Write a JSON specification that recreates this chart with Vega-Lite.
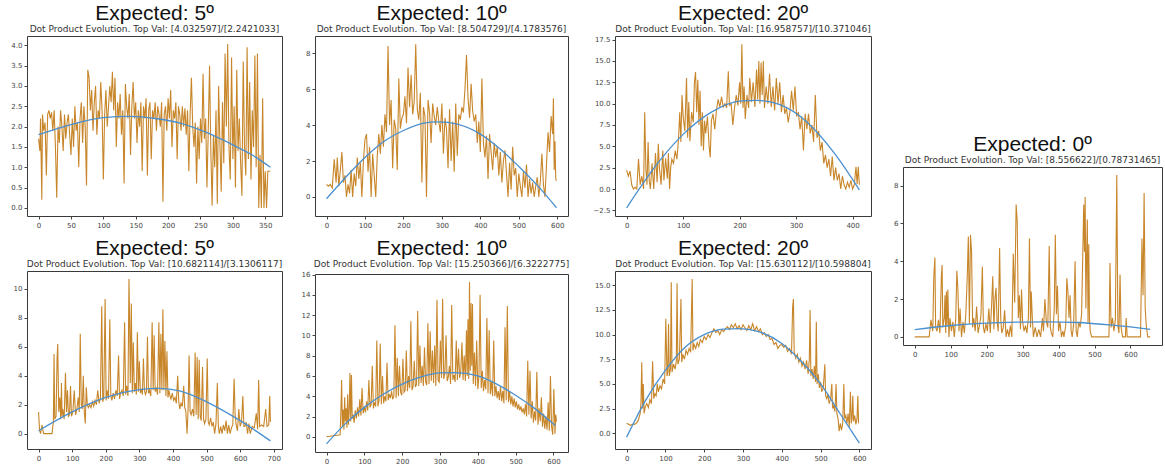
{
  "$schema": "https://vega.github.io/schema/vega-lite/v6.json",
  "background": "white",
  "padding": {"left": 10, "top": 2, "right": 0, "bottom": 0},
  "spacing": 17,
  "datasets": {
    "a": [{"x":0,"y":1.7},{"x":2,"y":1.4},{"x":3,"y":2.2},{"x":5,"y":0.2},{"x":6,"y":2.3},{"x":8,"y":1.9},{"x":10,"y":2.1},{"x":12,"y":0.8},{"x":14,"y":2.3},{"x":16,"y":2.4},{"x":18,"y":2.2},{"x":20,"y":2.35},{"x":22,"y":1.9},{"x":24,"y":2.4},{"x":26,"y":1.5},{"x":28,"y":0.25},{"x":30,"y":2.0},{"x":32,"y":1.6},{"x":34,"y":2.4},{"x":36,"y":2.0},{"x":38,"y":1.4},{"x":40,"y":2.3},{"x":42,"y":1.7},{"x":44,"y":2.1},{"x":46,"y":2.3},{"x":48,"y":1.8},{"x":50,"y":1.3},{"x":52,"y":2.2},{"x":54,"y":1.5},{"x":56,"y":2.5},{"x":58,"y":1.9},{"x":60,"y":2.1},{"x":62,"y":1.0},{"x":64,"y":2.2},{"x":66,"y":2.6},{"x":68,"y":1.6},{"x":70,"y":2.5},{"x":72,"y":2.0},{"x":74,"y":0.55},{"x":76,"y":3.4},{"x":78,"y":3.2},{"x":80,"y":2.4},{"x":82,"y":2.9},{"x":84,"y":1.9},{"x":86,"y":2.6},{"x":88,"y":3.0},{"x":90,"y":1.8},{"x":92,"y":2.4},{"x":94,"y":2.2},{"x":96,"y":3.1},{"x":98,"y":2.4},{"x":100,"y":0.7},{"x":102,"y":2.3},{"x":104,"y":2.9},{"x":106,"y":2.0},{"x":108,"y":2.5},{"x":110,"y":3.0},{"x":112,"y":2.6},{"x":114,"y":3.35},{"x":116,"y":2.4},{"x":118,"y":3.2},{"x":120,"y":1.5},{"x":122,"y":2.6},{"x":124,"y":2.2},{"x":126,"y":2.8},{"x":128,"y":1.8},{"x":130,"y":2.4},{"x":132,"y":0.6},{"x":134,"y":3.05},{"x":136,"y":2.5},{"x":138,"y":2.2},{"x":140,"y":2.8},{"x":142,"y":1.3},{"x":144,"y":2.5},{"x":146,"y":3.1},{"x":148,"y":2.2},{"x":150,"y":2.6},{"x":152,"y":1.6},{"x":154,"y":2.4},{"x":156,"y":2.0},{"x":158,"y":2.6},{"x":160,"y":0.9},{"x":162,"y":2.5},{"x":164,"y":2.2},{"x":166,"y":2.7},{"x":168,"y":0.8},{"x":170,"y":2.4},{"x":172,"y":2.6},{"x":174,"y":1.2},{"x":176,"y":2.4},{"x":178,"y":2.2},{"x":180,"y":2.6},{"x":182,"y":1.9},{"x":184,"y":2.5},{"x":186,"y":2.3},{"x":188,"y":2.0},{"x":190,"y":2.6},{"x":192,"y":0.15},{"x":194,"y":2.3},{"x":196,"y":2.5},{"x":198,"y":1.9},{"x":200,"y":2.7},{"x":202,"y":2.2},{"x":204,"y":2.9},{"x":206,"y":1.5},{"x":208,"y":2.4},{"x":210,"y":2.2},{"x":212,"y":2.6},{"x":214,"y":1.2},{"x":216,"y":2.5},{"x":218,"y":2.3},{"x":220,"y":1.9},{"x":222,"y":2.5},{"x":224,"y":2.0},{"x":226,"y":2.45},{"x":228,"y":1.8},{"x":230,"y":2.4},{"x":232,"y":0.9},{"x":234,"y":2.3},{"x":236,"y":3.2},{"x":238,"y":2.0},{"x":240,"y":1.5},{"x":242,"y":2.1},{"x":244,"y":0.6},{"x":246,"y":2.0},{"x":248,"y":1.2},{"x":250,"y":2.2},{"x":252,"y":1.6},{"x":254,"y":3.3},{"x":256,"y":1.7},{"x":258,"y":2.2},{"x":260,"y":0.5},{"x":262,"y":1.9},{"x":264,"y":3.5},{"x":266,"y":1.4},{"x":268,"y":0.05},{"x":270,"y":1.8},{"x":272,"y":1.0},{"x":274,"y":2.4},{"x":276,"y":0.1},{"x":278,"y":3.0},{"x":280,"y":1.6},{"x":282,"y":0.4},{"x":284,"y":2.6},{"x":286,"y":1.1},{"x":288,"y":3.8},{"x":290,"y":2.0},{"x":292,"y":4.03},{"x":294,"y":1.5},{"x":296,"y":0.7},{"x":298,"y":3.7},{"x":300,"y":1.2},{"x":302,"y":2.5},{"x":304,"y":0.5},{"x":306,"y":3.4},{"x":308,"y":1.4},{"x":310,"y":2.2},{"x":312,"y":1.1},{"x":314,"y":0.3},{"x":316,"y":3.6},{"x":318,"y":1.5},{"x":320,"y":0.8},{"x":322,"y":3.95},{"x":324,"y":1.2},{"x":326,"y":3.1},{"x":328,"y":0.7},{"x":330,"y":2.4},{"x":332,"y":1.5},{"x":334,"y":3.75},{"x":336,"y":1.0},{"x":338,"y":3.8},{"x":340,"y":0.0},{"x":342,"y":1.3},{"x":344,"y":0.0},{"x":346,"y":2.7},{"x":348,"y":0.0},{"x":350,"y":0.9},{"x":352,"y":0.0},{"x":354,"y":0.9},{"x":358,"y":0.9}],
    "a_fit": [{"x":0,"y":1.8},{"x":50,"y":2.05},{"x":100,"y":2.22},{"x":140,"y":2.25},{"x":180,"y":2.2},{"x":220,"y":2.08},{"x":260,"y":1.85},{"x":300,"y":1.55},{"x":330,"y":1.3},{"x":358,"y":1.0}],
    "b": [{"x":0,"y":0.7},{"x":5,"y":0.6},{"x":10,"y":0.7},{"x":15,"y":0.5},{"x":20,"y":2.1},{"x":25,"y":0.8},{"x":28,"y":2.2},{"x":32,"y":0.6},{"x":36,"y":1.5},{"x":40,"y":2.5},{"x":44,"y":0.8},{"x":48,"y":1.2},{"x":52,"y":0.0},{"x":56,"y":0.7},{"x":60,"y":0.2},{"x":64,"y":1.5},{"x":68,"y":0.0},{"x":72,"y":1.3},{"x":76,"y":0.6},{"x":80,"y":2.2},{"x":84,"y":1.0},{"x":88,"y":1.9},{"x":92,"y":0.0},{"x":96,"y":2.0},{"x":100,"y":3.2},{"x":104,"y":3.5},{"x":108,"y":1.4},{"x":112,"y":2.8},{"x":116,"y":0.0},{"x":120,"y":2.4},{"x":124,"y":1.2},{"x":128,"y":0.0},{"x":132,"y":2.3},{"x":136,"y":3.5},{"x":140,"y":2.4},{"x":144,"y":4.0},{"x":148,"y":2.8},{"x":152,"y":4.6},{"x":156,"y":3.6},{"x":160,"y":8.4},{"x":164,"y":4.0},{"x":168,"y":5.4},{"x":172,"y":1.6},{"x":176,"y":4.3},{"x":180,"y":3.8},{"x":184,"y":1.5},{"x":188,"y":6.6},{"x":192,"y":3.8},{"x":196,"y":4.4},{"x":200,"y":4.6},{"x":204,"y":5.6},{"x":208,"y":4.1},{"x":212,"y":7.2},{"x":216,"y":5.0},{"x":220,"y":6.8},{"x":224,"y":4.6},{"x":228,"y":5.3},{"x":232,"y":8.5},{"x":236,"y":4.9},{"x":240,"y":4.3},{"x":244,"y":5.8},{"x":248,"y":0.8},{"x":252,"y":5.0},{"x":256,"y":4.5},{"x":260,"y":0.0},{"x":264,"y":5.4},{"x":268,"y":4.7},{"x":272,"y":3.0},{"x":276,"y":5.2},{"x":280,"y":4.5},{"x":284,"y":4.0},{"x":288,"y":5.0},{"x":292,"y":4.2},{"x":296,"y":3.6},{"x":300,"y":5.2},{"x":304,"y":2.4},{"x":308,"y":4.4},{"x":312,"y":3.8},{"x":316,"y":1.6},{"x":320,"y":4.9},{"x":324,"y":2.0},{"x":328,"y":4.2},{"x":332,"y":1.4},{"x":336,"y":5.2},{"x":340,"y":2.3},{"x":344,"y":4.6},{"x":348,"y":4.3},{"x":352,"y":5.0},{"x":356,"y":4.7},{"x":360,"y":6.0},{"x":364,"y":7.9},{"x":368,"y":5.5},{"x":372,"y":4.4},{"x":376,"y":6.3},{"x":380,"y":4.8},{"x":384,"y":4.2},{"x":388,"y":4.6},{"x":392,"y":3.0},{"x":396,"y":4.2},{"x":400,"y":2.5},{"x":404,"y":6.6},{"x":408,"y":3.0},{"x":412,"y":2.2},{"x":416,"y":3.4},{"x":420,"y":1.0},{"x":424,"y":3.5},{"x":428,"y":2.5},{"x":432,"y":1.5},{"x":436,"y":3.0},{"x":440,"y":2.2},{"x":444,"y":2.8},{"x":448,"y":1.2},{"x":452,"y":2.5},{"x":456,"y":0.8},{"x":460,"y":2.0},{"x":464,"y":2.6},{"x":468,"y":1.3},{"x":472,"y":0.0},{"x":476,"y":1.9},{"x":480,"y":0.4},{"x":484,"y":2.8},{"x":488,"y":1.2},{"x":492,"y":1.6},{"x":496,"y":0.0},{"x":500,"y":1.3},{"x":504,"y":0.6},{"x":508,"y":0.0},{"x":512,"y":1.4},{"x":516,"y":0.5},{"x":520,"y":1.8},{"x":524,"y":0.0},{"x":528,"y":1.0},{"x":532,"y":0.2},{"x":536,"y":0.8},{"x":540,"y":0.0},{"x":544,"y":0.6},{"x":548,"y":1.1},{"x":552,"y":0.0},{"x":556,"y":0.9},{"x":560,"y":2.4},{"x":564,"y":0.7},{"x":568,"y":0.0},{"x":572,"y":1.8},{"x":576,"y":3.6},{"x":580,"y":2.5},{"x":584,"y":4.5},{"x":588,"y":3.5},{"x":590,"y":5.5},{"x":592,"y":1.5},{"x":594,"y":3.1},{"x":596,"y":1.0},{"x":598,"y":0.9}],
    "b_fit": [{"x":0,"y":-0.1},{"x":50,"y":1.1},{"x":100,"y":2.2},{"x":150,"y":3.1},{"x":200,"y":3.7},{"x":250,"y":4.1},{"x":290,"y":4.18},{"x":340,"y":4.05},{"x":400,"y":3.5},{"x":450,"y":2.7},{"x":500,"y":1.7},{"x":550,"y":0.6},{"x":598,"y":-0.6}],
    "c": [{"x":0,"y":2.2},{"x":3,"y":1.5},{"x":6,"y":2.1},{"x":9,"y":0.5},{"x":12,"y":0.0},{"x":15,"y":0.2},{"x":18,"y":0.0},{"x":21,"y":3.5},{"x":24,"y":0.5},{"x":27,"y":1.5},{"x":30,"y":0.0},{"x":32,"y":9.0},{"x":34,"y":2.5},{"x":36,"y":0.5},{"x":38,"y":5.5},{"x":40,"y":1.0},{"x":42,"y":0.0},{"x":45,"y":3.0},{"x":48,"y":0.0},{"x":51,"y":4.2},{"x":54,"y":0.8},{"x":56,"y":5.3},{"x":58,"y":2.5},{"x":61,"y":0.5},{"x":64,"y":4.5},{"x":66,"y":1.0},{"x":69,"y":3.6},{"x":72,"y":1.2},{"x":74,"y":4.2},{"x":76,"y":0.0},{"x":78,"y":2.5},{"x":80,"y":3.5},{"x":83,"y":3.0},{"x":86,"y":4.5},{"x":89,"y":3.5},{"x":92,"y":6.0},{"x":94,"y":9.0},{"x":96,"y":5.5},{"x":98,"y":11.0},{"x":100,"y":8.5},{"x":103,"y":6.8},{"x":106,"y":13.0},{"x":108,"y":6.0},{"x":110,"y":10.2},{"x":112,"y":5.6},{"x":115,"y":9.0},{"x":118,"y":7.8},{"x":120,"y":12.5},{"x":122,"y":13.7},{"x":124,"y":9.0},{"x":126,"y":12.8},{"x":128,"y":7.5},{"x":130,"y":11.5},{"x":132,"y":5.0},{"x":134,"y":9.0},{"x":136,"y":4.5},{"x":138,"y":8.0},{"x":140,"y":6.5},{"x":143,"y":8.5},{"x":146,"y":5.0},{"x":148,"y":3.7},{"x":150,"y":8.0},{"x":153,"y":8.8},{"x":156,"y":7.0},{"x":159,"y":9.2},{"x":162,"y":10.5},{"x":165,"y":9.6},{"x":168,"y":10.8},{"x":171,"y":9.6},{"x":174,"y":10.0},{"x":177,"y":9.5},{"x":180,"y":13.8},{"x":182,"y":9.8},{"x":185,"y":10.0},{"x":188,"y":7.5},{"x":191,"y":9.5},{"x":194,"y":11.0},{"x":197,"y":9.8},{"x":200,"y":12.5},{"x":202,"y":10.0},{"x":204,"y":16.96},{"x":206,"y":9.5},{"x":208,"y":12.0},{"x":210,"y":8.2},{"x":213,"y":11.0},{"x":216,"y":9.5},{"x":218,"y":13.0},{"x":221,"y":10.2},{"x":224,"y":12.5},{"x":227,"y":9.6},{"x":230,"y":14.0},{"x":232,"y":10.5},{"x":234,"y":15.0},{"x":236,"y":10.0},{"x":238,"y":14.8},{"x":240,"y":11.0},{"x":242,"y":15.0},{"x":244,"y":9.5},{"x":247,"y":12.0},{"x":250,"y":10.0},{"x":253,"y":13.5},{"x":256,"y":9.6},{"x":259,"y":12.0},{"x":262,"y":9.2},{"x":265,"y":13.0},{"x":268,"y":10.0},{"x":271,"y":12.5},{"x":274,"y":9.0},{"x":277,"y":11.0},{"x":280,"y":8.8},{"x":283,"y":9.5},{"x":286,"y":7.8},{"x":289,"y":9.0},{"x":292,"y":11.5},{"x":295,"y":9.2},{"x":298,"y":12.0},{"x":301,"y":8.5},{"x":304,"y":9.0},{"x":307,"y":7.0},{"x":310,"y":8.5},{"x":313,"y":4.5},{"x":316,"y":8.8},{"x":319,"y":7.0},{"x":322,"y":8.8},{"x":325,"y":6.5},{"x":328,"y":7.5},{"x":331,"y":5.5},{"x":334,"y":11.0},{"x":337,"y":6.0},{"x":340,"y":6.8},{"x":343,"y":4.5},{"x":346,"y":5.5},{"x":349,"y":3.0},{"x":352,"y":4.0},{"x":355,"y":2.5},{"x":358,"y":3.5},{"x":361,"y":1.5},{"x":364,"y":3.8},{"x":367,"y":1.0},{"x":370,"y":2.5},{"x":373,"y":1.0},{"x":376,"y":1.8},{"x":379,"y":0.0},{"x":382,"y":1.5},{"x":385,"y":0.5},{"x":388,"y":0.0},{"x":391,"y":0.8},{"x":394,"y":0.2},{"x":397,"y":1.0},{"x":400,"y":0.0},{"x":403,"y":0.5},{"x":406,"y":2.6},{"x":408,"y":0.6},{"x":410,"y":2.6},{"x":412,"y":0.5}],
    "c_fit": [{"x":0,"y":-2.2},{"x":50,"y":2.6},{"x":100,"y":6.4},{"x":150,"y":9.0},{"x":200,"y":10.3},{"x":230,"y":10.37},{"x":270,"y":9.9},{"x":320,"y":7.8},{"x":370,"y":4.0},{"x":412,"y":-0.1}],
    "d": [{"x":0,"y":0},{"x":40,"y":0},{"x":45,"y":0.9},{"x":50,"y":0.3},{"x":53,"y":3.2},{"x":56,"y":4.2},{"x":58,"y":0.5},{"x":62,"y":0.3},{"x":66,"y":0.9},{"x":70,"y":0.2},{"x":74,"y":3.2},{"x":76,"y":3.8},{"x":78,"y":0.5},{"x":82,"y":1.0},{"x":84,"y":2.2},{"x":86,"y":0.2},{"x":88,"y":2.4},{"x":90,"y":0.6},{"x":92,"y":2.5},{"x":95,"y":0.0},{"x":98,"y":1.0},{"x":102,"y":0.3},{"x":106,"y":0.8},{"x":110,"y":0.0},{"x":114,"y":1.0},{"x":117,"y":3.5},{"x":120,"y":2.5},{"x":123,"y":0.3},{"x":126,"y":1.5},{"x":130,"y":0.0},{"x":134,"y":0.8},{"x":138,"y":0.2},{"x":142,"y":1.2},{"x":146,"y":3.2},{"x":149,"y":5.3},{"x":152,"y":0.7},{"x":155,"y":5.4},{"x":158,"y":4.5},{"x":161,"y":0.5},{"x":164,"y":1.0},{"x":168,"y":0.3},{"x":172,"y":1.6},{"x":176,"y":0.2},{"x":180,"y":0.6},{"x":184,"y":1.1},{"x":188,"y":3.7},{"x":191,"y":0.5},{"x":194,"y":0.2},{"x":198,"y":0.7},{"x":202,"y":0.3},{"x":206,"y":1.5},{"x":210,"y":0.2},{"x":214,"y":1.8},{"x":217,"y":3.2},{"x":220,"y":0.4},{"x":223,"y":2.0},{"x":226,"y":2.6},{"x":229,"y":0.8},{"x":232,"y":0.3},{"x":236,"y":4.7},{"x":239,"y":1.0},{"x":242,"y":0.2},{"x":246,"y":0.5},{"x":250,"y":1.4},{"x":254,"y":0.0},{"x":258,"y":0.4},{"x":262,"y":0.0},{"x":266,"y":0.6},{"x":270,"y":0.0},{"x":274,"y":4.4},{"x":278,"y":1.8},{"x":282,"y":7.0},{"x":285,"y":6.1},{"x":288,"y":1.0},{"x":291,"y":2.2},{"x":294,"y":0.4},{"x":297,"y":2.5},{"x":300,"y":0.8},{"x":304,"y":0.3},{"x":308,"y":0.6},{"x":312,"y":0.2},{"x":316,"y":1.0},{"x":319,"y":5.2},{"x":322,"y":0.5},{"x":324,"y":2.4},{"x":327,"y":1.0},{"x":330,"y":0.0},{"x":335,"y":0.5},{"x":340,"y":0.0},{"x":345,"y":0.4},{"x":350,"y":0.0},{"x":355,"y":1.0},{"x":358,"y":0.3},{"x":362,"y":2.0},{"x":366,"y":0.8},{"x":370,"y":0.5},{"x":374,"y":4.8},{"x":377,"y":0.5},{"x":380,"y":0.2},{"x":384,"y":0.0},{"x":388,"y":1.5},{"x":391,"y":5.4},{"x":394,"y":1.2},{"x":397,"y":2.7},{"x":400,"y":0.3},{"x":404,"y":0.8},{"x":408,"y":0.0},{"x":412,"y":0.3},{"x":415,"y":0.0},{"x":420,"y":0.6},{"x":423,"y":3.1},{"x":426,"y":2.4},{"x":429,"y":1.0},{"x":432,"y":2.2},{"x":435,"y":0.3},{"x":438,"y":0.0},{"x":442,"y":0.7},{"x":446,"y":4.0},{"x":449,"y":0.3},{"x":452,"y":0.0},{"x":456,"y":0.8},{"x":460,"y":0.5},{"x":464,"y":1.2},{"x":467,"y":4.0},{"x":470,"y":7.0},{"x":472,"y":4.5},{"x":474,"y":7.4},{"x":476,"y":1.5},{"x":478,"y":4.2},{"x":480,"y":6.2},{"x":482,"y":0.7},{"x":484,"y":4.9},{"x":486,"y":1.0},{"x":488,"y":0.3},{"x":492,"y":0.0},{"x":540,"y":0.0},{"x":541,"y":0.8},{"x":543,"y":3.9},{"x":546,"y":0.5},{"x":550,"y":1.0},{"x":554,"y":0.3},{"x":558,"y":0.9},{"x":562,"y":8.56},{"x":565,"y":0.6},{"x":568,"y":0.2},{"x":571,"y":3.3},{"x":574,"y":0.5},{"x":578,"y":0.0},{"x":586,"y":0.0},{"x":588,"y":1.0},{"x":591,"y":0.0},{"x":628,"y":0.0},{"x":632,"y":5.2},{"x":635,"y":2.2},{"x":638,"y":7.6},{"x":641,"y":1.5},{"x":644,"y":0.6},{"x":648,"y":0.0},{"x":655,"y":0.0}],
    "d_fit": [{"x":0,"y":0.38},{"x":100,"y":0.6},{"x":200,"y":0.73},{"x":300,"y":0.78},{"x":370,"y":0.79},{"x":450,"y":0.76},{"x":550,"y":0.62},{"x":655,"y":0.4}],
    "e": [{"x":0,"y":1.5},{"x":3,"y":0.2},{"x":6,"y":0.0},{"x":10,"y":0.6},{"x":15,"y":0.0},{"x":40,"y":0.0},{"x":44,"y":0.8},{"x":46,"y":5.5},{"x":48,"y":1.0},{"x":52,"y":1.2},{"x":55,"y":5.2},{"x":57,"y":6.2},{"x":60,"y":1.5},{"x":63,"y":2.5},{"x":66,"y":1.0},{"x":68,"y":3.5},{"x":70,"y":1.2},{"x":72,"y":1.7},{"x":76,"y":1.0},{"x":80,"y":4.2},{"x":83,"y":1.5},{"x":86,"y":3.0},{"x":89,"y":1.2},{"x":92,"y":1.3},{"x":95,"y":3.3},{"x":98,"y":1.2},{"x":102,"y":1.5},{"x":106,"y":3.0},{"x":110,"y":1.3},{"x":114,"y":1.7},{"x":118,"y":2.5},{"x":121,"y":1.5},{"x":124,"y":6.9},{"x":127,"y":2.0},{"x":130,"y":1.7},{"x":133,"y":4.0},{"x":136,"y":1.5},{"x":139,"y":0.7},{"x":142,"y":3.2},{"x":145,"y":2.0},{"x":148,"y":1.8},{"x":152,"y":2.0},{"x":156,"y":1.8},{"x":160,"y":2.2},{"x":164,"y":1.9},{"x":168,"y":2.3},{"x":172,"y":2.0},{"x":176,"y":3.0},{"x":180,"y":2.1},{"x":184,"y":2.4},{"x":188,"y":8.8},{"x":191,"y":2.2},{"x":194,"y":2.5},{"x":198,"y":9.3},{"x":201,"y":2.3},{"x":204,"y":3.0},{"x":208,"y":2.4},{"x":212,"y":7.9},{"x":215,"y":2.6},{"x":218,"y":2.3},{"x":222,"y":2.8},{"x":226,"y":2.4},{"x":230,"y":3.0},{"x":234,"y":2.6},{"x":238,"y":5.4},{"x":241,"y":2.4},{"x":244,"y":2.8},{"x":248,"y":3.0},{"x":252,"y":2.6},{"x":256,"y":7.7},{"x":259,"y":2.7},{"x":262,"y":3.3},{"x":266,"y":2.6},{"x":269,"y":10.68},{"x":271,"y":7.6},{"x":273,"y":3.5},{"x":276,"y":9.0},{"x":279,"y":2.8},{"x":282,"y":6.3},{"x":285,"y":2.9},{"x":288,"y":3.5},{"x":291,"y":2.7},{"x":294,"y":7.0},{"x":297,"y":2.9},{"x":300,"y":5.0},{"x":303,"y":2.8},{"x":306,"y":3.1},{"x":309,"y":2.7},{"x":312,"y":5.2},{"x":315,"y":3.0},{"x":318,"y":2.7},{"x":321,"y":2.9},{"x":324,"y":6.7},{"x":327,"y":2.8},{"x":330,"y":3.0},{"x":334,"y":2.6},{"x":338,"y":7.7},{"x":341,"y":3.0},{"x":344,"y":6.8},{"x":347,"y":2.9},{"x":350,"y":3.2},{"x":354,"y":2.7},{"x":358,"y":7.7},{"x":361,"y":2.8},{"x":364,"y":6.9},{"x":367,"y":3.0},{"x":370,"y":8.6},{"x":373,"y":3.0},{"x":376,"y":6.4},{"x":379,"y":2.6},{"x":382,"y":5.7},{"x":385,"y":2.5},{"x":388,"y":3.0},{"x":391,"y":2.6},{"x":394,"y":2.4},{"x":398,"y":2.8},{"x":402,"y":2.3},{"x":406,"y":2.5},{"x":410,"y":2.1},{"x":414,"y":4.0},{"x":417,"y":2.3},{"x":420,"y":1.7},{"x":424,"y":2.1},{"x":428,"y":1.9},{"x":432,"y":3.3},{"x":435,"y":1.8},{"x":438,"y":1.6},{"x":442,"y":0.0},{"x":445,"y":1.7},{"x":448,"y":5.4},{"x":451,"y":1.5},{"x":454,"y":1.3},{"x":458,"y":1.7},{"x":462,"y":1.2},{"x":466,"y":5.6},{"x":469,"y":1.3},{"x":472,"y":5.3},{"x":475,"y":1.0},{"x":478,"y":5.1},{"x":481,"y":1.2},{"x":484,"y":0.9},{"x":488,"y":4.6},{"x":491,"y":1.0},{"x":494,"y":0.7},{"x":498,"y":1.0},{"x":502,"y":5.2},{"x":505,"y":0.8},{"x":508,"y":0.6},{"x":512,"y":1.1},{"x":516,"y":0.5},{"x":520,"y":0.8},{"x":524,"y":0.0},{"x":528,"y":0.7},{"x":532,"y":3.5},{"x":535,"y":0.5},{"x":538,"y":0.0},{"x":542,"y":0.5},{"x":546,"y":0.0},{"x":550,"y":0.6},{"x":554,"y":0.2},{"x":558,"y":0.9},{"x":562,"y":0.0},{"x":566,"y":0.6},{"x":570,"y":0.0},{"x":574,"y":0.4},{"x":578,"y":0.6},{"x":582,"y":3.8},{"x":585,"y":1.3},{"x":588,"y":0.6},{"x":592,"y":0.2},{"x":596,"y":1.7},{"x":600,"y":0.5},{"x":604,"y":0.8},{"x":608,"y":2.6},{"x":611,"y":0.5},{"x":614,"y":0.5},{"x":618,"y":0.8},{"x":622,"y":0.0},{"x":626,"y":0.7},{"x":630,"y":0.0},{"x":636,"y":0.5},{"x":642,"y":0.4},{"x":648,"y":1.4},{"x":652,"y":0.3},{"x":655,"y":3.7},{"x":658,"y":0.5},{"x":664,"y":0.6},{"x":670,"y":0.5},{"x":676,"y":1.7},{"x":680,"y":0.5},{"x":685,"y":0.6},{"x":688,"y":2.6},{"x":690,"y":0.8}],
    "e_fit": [{"x":0,"y":0.2},{"x":100,"y":1.5},{"x":200,"y":2.5},{"x":300,"y":3.05},{"x":360,"y":3.13},{"x":420,"y":2.95},{"x":500,"y":2.2},{"x":600,"y":0.9},{"x":690,"y":-0.5}],
    "f": [{"x":0,"y":0.0},{"x":36,"y":0.2},{"x":38,"y":2.5},{"x":40,"y":5.6},{"x":42,"y":1.0},{"x":44,"y":2.7},{"x":46,"y":0.7},{"x":48,"y":3.9},{"x":50,"y":1.5},{"x":52,"y":2.8},{"x":54,"y":0.9},{"x":56,"y":4.2},{"x":58,"y":1.2},{"x":60,"y":2.5},{"x":62,"y":6.3},{"x":64,"y":1.5},{"x":66,"y":6.1},{"x":68,"y":1.8},{"x":70,"y":2.2},{"x":73,"y":1.4},{"x":76,"y":2.6},{"x":79,"y":1.8},{"x":82,"y":2.9},{"x":85,"y":2.0},{"x":88,"y":3.7},{"x":91,"y":2.1},{"x":94,"y":4.8},{"x":97,"y":2.3},{"x":100,"y":3.0},{"x":103,"y":2.4},{"x":106,"y":3.5},{"x":109,"y":2.6},{"x":112,"y":5.6},{"x":115,"y":2.9},{"x":118,"y":3.2},{"x":121,"y":7.0},{"x":124,"y":2.8},{"x":127,"y":3.4},{"x":130,"y":3.0},{"x":133,"y":9.5},{"x":136,"y":3.0},{"x":139,"y":3.6},{"x":142,"y":9.2},{"x":145,"y":3.2},{"x":148,"y":6.0},{"x":151,"y":3.3},{"x":154,"y":4.0},{"x":157,"y":3.5},{"x":160,"y":7.3},{"x":163,"y":3.6},{"x":166,"y":4.2},{"x":169,"y":3.8},{"x":172,"y":4.5},{"x":175,"y":3.7},{"x":178,"y":4.0},{"x":181,"y":11.0},{"x":184,"y":3.8},{"x":187,"y":7.8},{"x":190,"y":4.0},{"x":193,"y":7.0},{"x":196,"y":4.4},{"x":199,"y":4.1},{"x":202,"y":7.7},{"x":205,"y":4.4},{"x":208,"y":4.6},{"x":211,"y":8.5},{"x":214,"y":4.5},{"x":217,"y":6.0},{"x":220,"y":4.8},{"x":223,"y":11.4},{"x":226,"y":4.6},{"x":229,"y":5.0},{"x":232,"y":7.5},{"x":235,"y":4.9},{"x":238,"y":5.2},{"x":241,"y":12.4},{"x":244,"y":5.0},{"x":247,"y":9.0},{"x":250,"y":5.3},{"x":253,"y":7.0},{"x":256,"y":5.0},{"x":259,"y":8.8},{"x":262,"y":5.4},{"x":265,"y":5.1},{"x":268,"y":11.2},{"x":271,"y":5.2},{"x":274,"y":10.4},{"x":277,"y":5.5},{"x":280,"y":8.5},{"x":283,"y":5.3},{"x":286,"y":9.0},{"x":289,"y":5.0},{"x":292,"y":13.5},{"x":295,"y":5.6},{"x":298,"y":5.4},{"x":301,"y":9.5},{"x":304,"y":5.8},{"x":307,"y":13.6},{"x":310,"y":5.7},{"x":313,"y":6.3},{"x":316,"y":10.0},{"x":319,"y":5.5},{"x":322,"y":5.9},{"x":325,"y":7.0},{"x":328,"y":5.2},{"x":331,"y":13.0},{"x":334,"y":5.6},{"x":337,"y":6.1},{"x":340,"y":5.4},{"x":343,"y":9.5},{"x":346,"y":5.6},{"x":349,"y":8.7},{"x":352,"y":5.8},{"x":355,"y":6.5},{"x":358,"y":9.3},{"x":361,"y":5.6},{"x":364,"y":8.0},{"x":367,"y":5.5},{"x":370,"y":10.5},{"x":372,"y":6.0},{"x":374,"y":11.6},{"x":376,"y":5.7},{"x":378,"y":15.25},{"x":380,"y":6.5},{"x":382,"y":13.2},{"x":384,"y":7.0},{"x":386,"y":13.1},{"x":388,"y":5.2},{"x":391,"y":8.3},{"x":394,"y":5.0},{"x":397,"y":9.5},{"x":400,"y":4.7},{"x":403,"y":6.0},{"x":406,"y":14.0},{"x":409,"y":4.8},{"x":412,"y":6.5},{"x":415,"y":4.5},{"x":418,"y":5.6},{"x":421,"y":4.7},{"x":424,"y":11.7},{"x":427,"y":4.3},{"x":430,"y":10.5},{"x":433,"y":4.2},{"x":436,"y":5.5},{"x":439,"y":4.0},{"x":442,"y":9.5},{"x":445,"y":4.0},{"x":448,"y":5.0},{"x":451,"y":3.8},{"x":454,"y":4.5},{"x":457,"y":3.6},{"x":460,"y":5.0},{"x":463,"y":3.5},{"x":466,"y":4.5},{"x":469,"y":3.3},{"x":472,"y":10.8},{"x":475,"y":3.6},{"x":478,"y":12.9},{"x":481,"y":3.4},{"x":484,"y":4.5},{"x":487,"y":3.2},{"x":490,"y":4.0},{"x":493,"y":3.0},{"x":496,"y":3.8},{"x":499,"y":2.9},{"x":502,"y":3.5},{"x":505,"y":2.7},{"x":508,"y":3.2},{"x":511,"y":2.6},{"x":514,"y":3.0},{"x":517,"y":2.4},{"x":520,"y":2.8},{"x":523,"y":2.2},{"x":526,"y":3.2},{"x":529,"y":2.0},{"x":532,"y":7.5},{"x":535,"y":2.2},{"x":538,"y":6.5},{"x":541,"y":1.8},{"x":544,"y":3.5},{"x":547,"y":1.4},{"x":550,"y":2.5},{"x":553,"y":1.6},{"x":556,"y":6.4},{"x":559,"y":1.2},{"x":562,"y":2.8},{"x":565,"y":1.5},{"x":568,"y":3.9},{"x":571,"y":1.0},{"x":574,"y":2.3},{"x":577,"y":0.8},{"x":580,"y":2.0},{"x":583,"y":0.7},{"x":586,"y":3.4},{"x":589,"y":0.6},{"x":592,"y":6.0},{"x":595,"y":1.0},{"x":598,"y":0.2},{"x":601,"y":4.7},{"x":604,"y":0.3},{"x":606,"y":2.2},{"x":608,"y":1.5}],
    "f_fit": [{"x":0,"y":-0.7},{"x":50,"y":1.3},{"x":100,"y":2.9},{"x":150,"y":4.2},{"x":200,"y":5.2},{"x":250,"y":5.9},{"x":300,"y":6.3},{"x":340,"y":6.32},{"x":400,"y":6.0},{"x":450,"y":5.2},{"x":500,"y":4.1},{"x":550,"y":2.8},{"x":605,"y":1.1}],
    "g": [{"x":0,"y":1.0},{"x":5,"y":0.9},{"x":10,"y":0.8},{"x":15,"y":0.9},{"x":20,"y":0.9},{"x":25,"y":1.0},{"x":30,"y":1.3},{"x":35,"y":2.0},{"x":37,"y":3.2},{"x":39,"y":7.2},{"x":41,"y":2.5},{"x":43,"y":5.0},{"x":45,"y":2.0},{"x":48,"y":2.7},{"x":52,"y":3.0},{"x":56,"y":2.6},{"x":60,"y":3.4},{"x":64,"y":3.0},{"x":67,"y":7.3},{"x":70,"y":3.5},{"x":73,"y":4.0},{"x":76,"y":3.8},{"x":79,"y":5.0},{"x":82,"y":4.2},{"x":86,"y":4.8},{"x":90,"y":4.5},{"x":94,"y":5.5},{"x":98,"y":5.0},{"x":101,"y":11.6},{"x":104,"y":5.8},{"x":106,"y":6.2},{"x":108,"y":11.1},{"x":110,"y":5.8},{"x":113,"y":6.5},{"x":115,"y":15.3},{"x":117,"y":6.2},{"x":121,"y":7.0},{"x":125,"y":6.5},{"x":128,"y":7.3},{"x":130,"y":15.2},{"x":132,"y":7.0},{"x":136,"y":7.5},{"x":140,"y":13.6},{"x":142,"y":7.2},{"x":145,"y":8.0},{"x":149,"y":7.5},{"x":153,"y":8.4},{"x":157,"y":8.0},{"x":161,"y":8.6},{"x":165,"y":8.2},{"x":169,"y":15.63},{"x":171,"y":8.4},{"x":174,"y":9.0},{"x":178,"y":8.6},{"x":182,"y":9.2},{"x":186,"y":8.8},{"x":190,"y":9.5},{"x":195,"y":9.2},{"x":200,"y":9.8},{"x":205,"y":9.5},{"x":210,"y":10.0},{"x":215,"y":9.7},{"x":220,"y":10.2},{"x":225,"y":10.6},{"x":230,"y":10.2},{"x":235,"y":10.4},{"x":240,"y":10.0},{"x":245,"y":10.5},{"x":250,"y":10.3},{"x":255,"y":10.6},{"x":260,"y":10.8},{"x":265,"y":10.5},{"x":270,"y":11.0},{"x":275,"y":10.7},{"x":280,"y":11.1},{"x":285,"y":10.6},{"x":290,"y":10.9},{"x":295,"y":10.5},{"x":300,"y":11.0},{"x":305,"y":10.7},{"x":310,"y":10.4},{"x":315,"y":10.9},{"x":320,"y":10.5},{"x":325,"y":11.1},{"x":330,"y":10.4},{"x":335,"y":10.8},{"x":340,"y":10.3},{"x":345,"y":10.6},{"x":350,"y":10.0},{"x":355,"y":10.2},{"x":360,"y":9.8},{"x":365,"y":10.0},{"x":370,"y":9.5},{"x":375,"y":9.6},{"x":380,"y":9.0},{"x":385,"y":9.2},{"x":390,"y":8.6},{"x":395,"y":8.9},{"x":400,"y":9.0},{"x":405,"y":8.7},{"x":410,"y":8.9},{"x":415,"y":8.3},{"x":420,"y":8.6},{"x":425,"y":8.0},{"x":428,"y":12.8},{"x":430,"y":13.6},{"x":432,"y":8.2},{"x":436,"y":7.6},{"x":440,"y":8.0},{"x":444,"y":7.2},{"x":448,"y":7.6},{"x":452,"y":6.8},{"x":456,"y":7.2},{"x":460,"y":6.5},{"x":464,"y":7.4},{"x":468,"y":6.0},{"x":471,"y":7.5},{"x":473,"y":12.5},{"x":475,"y":5.8},{"x":478,"y":6.5},{"x":481,"y":5.5},{"x":484,"y":6.8},{"x":487,"y":5.2},{"x":489,"y":11.3},{"x":491,"y":5.0},{"x":494,"y":6.0},{"x":497,"y":4.6},{"x":500,"y":5.2},{"x":503,"y":4.2},{"x":507,"y":4.6},{"x":511,"y":7.0},{"x":513,"y":3.8},{"x":516,"y":3.5},{"x":519,"y":4.0},{"x":522,"y":3.0},{"x":526,"y":3.5},{"x":529,"y":5.0},{"x":531,"y":2.5},{"x":534,"y":2.8},{"x":537,"y":2.2},{"x":540,"y":5.0},{"x":542,"y":2.0},{"x":545,"y":1.5},{"x":548,"y":0.2},{"x":551,"y":1.0},{"x":554,"y":0.3},{"x":557,"y":1.0},{"x":560,"y":5.0},{"x":562,"y":1.5},{"x":565,"y":1.8},{"x":568,"y":1.0},{"x":571,"y":2.0},{"x":574,"y":0.6},{"x":577,"y":4.2},{"x":579,"y":1.0},{"x":581,"y":1.5},{"x":583,"y":3.8},{"x":585,"y":1.2},{"x":588,"y":1.8},{"x":591,"y":0.9},{"x":594,"y":1.5},{"x":596,"y":3.8},{"x":598,"y":1.0}],
    "g_fit": [{"x":0,"y":-0.4},{"x":50,"y":3.4},{"x":100,"y":6.4},{"x":150,"y":8.7},{"x":200,"y":10.0},{"x":250,"y":10.55},{"x":290,"y":10.6},{"x":340,"y":10.3},{"x":400,"y":9.1},{"x":450,"y":7.3},{"x":500,"y":5.0},{"x":550,"y":2.0},{"x":600,"y":-1.0}]
  },
  "hconcat": [
    {"vconcat": [
      {"title": {"text": "Expected: 5º", "subtitle": "Dot Product Evolution. Top Val: [4.032597]/[2.2421033]"}, "width": 255, "height": 180,
       "encoding": {"x": {"field": "x", "type": "quantitative", "title": null, "scale": {"domain": [-17.9, 375.9], "nice": false, "zero": false}, "axis": {"values": [0,50,100,150,200,250,300,350], "labelOverlap": false}},
                    "y": {"field": "y", "type": "quantitative", "title": null, "scale": {"domain": [-0.2, 4.23], "nice": false, "zero": false}, "axis": {"values": [0,0.5,1,1.5,2,2.5,3,3.5,4], "format": ".1f", "labelOverlap": false}}},
       "layer": [
        {"data": {"name": "a"}, "mark": {"type": "line", "color": "#c8862a", "strokeWidth": 1.1}},
        {"data": {"name": "a_fit"}, "mark": {"type": "line", "color": "#4a90d0", "strokeWidth": 1.3, "interpolate": "monotone"}}
       ]},
      {"title": {"text": "Expected: 5º", "subtitle": "Dot Product Evolution. Top Val: [10.682114]/[3.1306117]"}, "width": 255, "height": 178,
       "encoding": {"x": {"field": "x", "type": "quantitative", "title": null, "scale": {"domain": [-34.5, 724.5], "nice": false, "zero": false}, "axis": {"values": [0,100,200,300,400,500,600,700], "labelOverlap": false}},
                    "y": {"field": "y", "type": "quantitative", "title": null, "scale": {"domain": [-1.06, 11.24], "nice": false, "zero": false}, "axis": {"values": [0,2,4,6,8,10], "labelOverlap": false}}},
       "layer": [
        {"data": {"name": "e"}, "mark": {"type": "line", "color": "#c8862a", "strokeWidth": 1.1}},
        {"data": {"name": "e_fit"}, "mark": {"type": "line", "color": "#4a90d0", "strokeWidth": 1.3, "interpolate": "monotone"}}
       ]}
    ], "spacing": 8},
    {"vconcat": [
      {"title": {"text": "Expected: 10º", "subtitle": "Dot Product Evolution. Top Val: [8.504729]/[4.1783576]"}, "width": 253, "height": 180,
       "encoding": {"x": {"field": "x", "type": "quantitative", "title": null, "scale": {"domain": [-29.9, 627.9], "nice": false, "zero": false}, "axis": {"values": [0,100,200,300,400,500,600], "labelOverlap": false}},
                    "y": {"field": "y", "type": "quantitative", "title": null, "scale": {"domain": [-1.06, 8.96], "nice": false, "zero": false}, "axis": {"values": [0,2,4,6,8], "labelOverlap": false}}},
       "layer": [
        {"data": {"name": "b"}, "mark": {"type": "line", "color": "#c8862a", "strokeWidth": 1.1}},
        {"data": {"name": "b_fit"}, "mark": {"type": "line", "color": "#4a90d0", "strokeWidth": 1.3, "interpolate": "monotone"}}
       ]},
      {"title": {"text": "Expected: 10º", "subtitle": "Dot Product Evolution. Top Val: [15.250366]/[6.3222775]"}, "width": 253, "height": 178,
       "encoding": {"x": {"field": "x", "type": "quantitative", "title": null, "scale": {"domain": [-30.4, 638.4], "nice": false, "zero": false}, "axis": {"values": [0,100,200,300,400,500,600], "labelOverlap": false}},
                    "y": {"field": "y", "type": "quantitative", "title": null, "scale": {"domain": [-1.5, 16.05], "nice": false, "zero": false}, "axis": {"values": [0,2,4,6,8,10,12,14,16], "labelOverlap": false}}},
       "layer": [
        {"data": {"name": "f"}, "mark": {"type": "line", "color": "#c8862a", "strokeWidth": 1.1}},
        {"data": {"name": "f_fit"}, "mark": {"type": "line", "color": "#4a90d0", "strokeWidth": 1.3, "interpolate": "monotone"}}
       ]}
    ], "spacing": 8},
    {"vconcat": [
      {"title": {"text": "Expected: 20º", "subtitle": "Dot Product Evolution. Top Val: [16.958757]/[10.371046]"}, "width": 256, "height": 180,
       "encoding": {"x": {"field": "x", "type": "quantitative", "title": null, "scale": {"domain": [-20.6, 432.6], "nice": false, "zero": false}, "axis": {"values": [0,100,200,300,400], "labelOverlap": false}},
                    "y": {"field": "y", "type": "quantitative", "title": " ", "scale": {"domain": [-3.16, 17.92], "nice": false, "zero": false}, "axis": {"values": [-2.5,0,2.5,5,7.5,10,12.5,15,17.5], "format": ".1f", "labelOverlap": false, "titleFontSize": 1, "titlePadding": 4}}},
       "layer": [
        {"data": {"name": "c"}, "mark": {"type": "line", "color": "#c8862a", "strokeWidth": 1.1}},
        {"data": {"name": "c_fit"}, "mark": {"type": "line", "color": "#4a90d0", "strokeWidth": 1.3, "interpolate": "monotone"}}
       ]},
      {"title": {"text": "Expected: 20º", "subtitle": "Dot Product Evolution. Top Val: [15.630112]/[10.598804]"}, "width": 256, "height": 178,
       "encoding": {"x": {"field": "x", "type": "quantitative", "title": null, "scale": {"domain": [-30, 630], "nice": false, "zero": false}, "axis": {"values": [0,100,200,300,400,500,600], "labelOverlap": false}},
                    "y": {"field": "y", "type": "quantitative", "title": " ", "scale": {"domain": [-1.6, 16.45], "nice": false, "zero": false}, "axis": {"values": [0,2.5,5,7.5,10,12.5,15], "format": ".1f", "labelOverlap": false, "titleFontSize": 1, "titlePadding": 4}}},
       "layer": [
        {"data": {"name": "g"}, "mark": {"type": "line", "color": "#c8862a", "strokeWidth": 1.1}},
        {"data": {"name": "g_fit"}, "mark": {"type": "line", "color": "#4a90d0", "strokeWidth": 1.3, "interpolate": "monotone"}}
       ]}
    ], "spacing": 8},
    {"vconcat": [
      {"width": 259, "height": 89, "view": {"stroke": null}, "data": {"values": [{}]}, "mark": {"type": "text", "text": ""}, "encoding": {}},
      {"title": {"text": "Expected: 0º", "subtitle": "Dot Product Evolution. Top Val: [8.556622]/[0.78731465]"}, "width": 259, "height": 178,
       "encoding": {"x": {"field": "x", "type": "quantitative", "title": null, "scale": {"domain": [-32.75, 687.75], "nice": false, "zero": false}, "axis": {"values": [0,100,200,300,400,500,600], "labelOverlap": false}},
                    "y": {"field": "y", "type": "quantitative", "title": " ", "scale": {"domain": [-0.43, 8.98], "nice": false, "zero": false}, "axis": {"values": [0,2,4,6,8], "labelOverlap": false, "titleFontSize": 1, "titlePadding": 3}}},
       "layer": [
        {"data": {"name": "d"}, "mark": {"type": "line", "color": "#c8862a", "strokeWidth": 1.1}},
        {"data": {"name": "d_fit"}, "mark": {"type": "line", "color": "#4a90d0", "strokeWidth": 1.3, "interpolate": "monotone"}}
       ]}
    ], "spacing": 8}
  ],
  "config": {
    "view": {"stroke": "#3a3a3a", "strokeWidth": 1},
    "axis": {"domain": false, "grid": false, "labelFont": "DejaVu Sans", "labelFontSize": 7, "labelColor": "#444", "tickColor": "#444", "tickSize": 3, "labelPadding": 2, "labelOverlap": false, "labelFlush": false},
    "title": {"font": "Liberation Sans", "fontSize": 21, "fontWeight": "normal", "color": "#111", "subtitleFont": "DejaVu Sans", "subtitleFontSize": 9, "subtitleColor": "#333", "subtitlePadding": 1, "offset": 2, "anchor": "middle"}
  }
}
